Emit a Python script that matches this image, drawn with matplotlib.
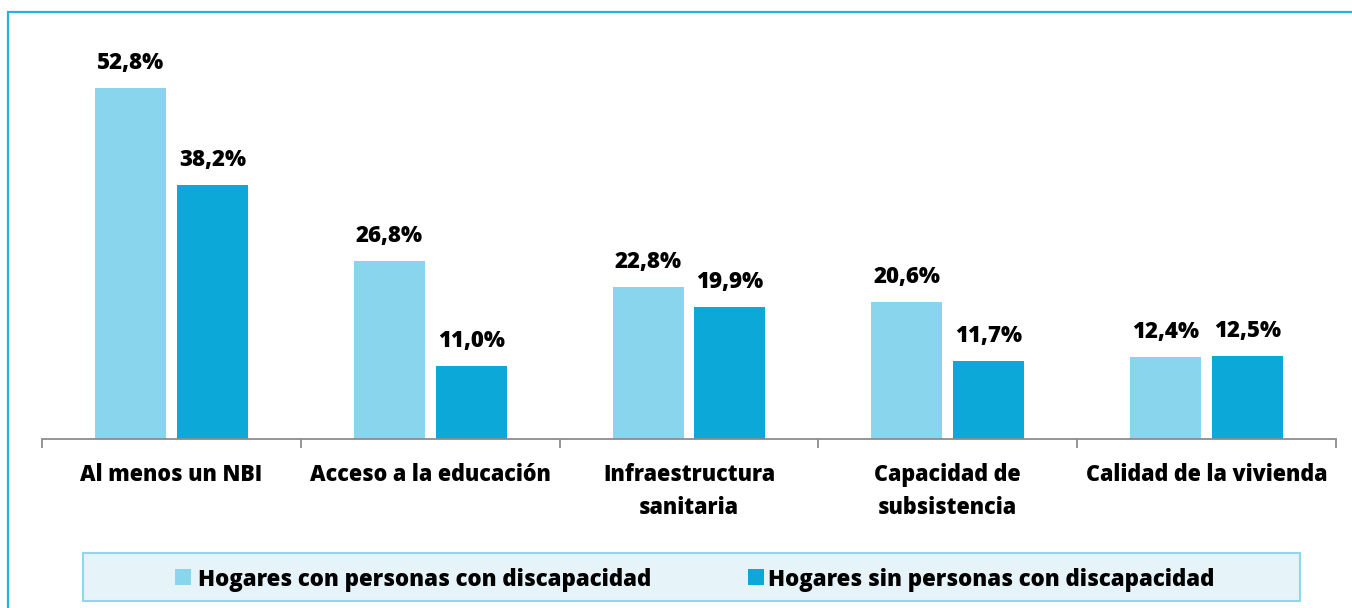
import matplotlib
matplotlib.use("Agg")
import matplotlib.pyplot as plt
from matplotlib.patches import Rectangle
import numpy as np

categories = ["Al menos un NBI", "Acceso a la educación", "Infraestructura\nsanitaria",
              "Capacidad de\nsubsistencia", "Calidad de la vivienda"]
con_disc = [52.8, 26.8, 22.8, 20.6, 12.4]
sin_disc = [38.2, 11.0, 19.9, 11.7, 12.5]
series_names = ["Hogares con personas con discapacidad", "Hogares sin personas con discapacidad"]

c_light = "#8AD5EE"
c_dark = "#0BA8D8"
FONT = "Open Sans"
WT = 800
FS_VAL = 16
FS_CAT = 15.5
FS_LEG = 16

W, H = 1352, 608
fig = plt.figure(figsize=(W / 100, H / 100), dpi=100)

def fx(px):
    return px / W

def fy(py):
    return 1 - py / H

fig.patches.append(Rectangle((fx(8), fy(700)), fx(1400), fy(12) - fy(700),
                             transform=fig.transFigure, fill=False,
                             edgecolor="#22B3E0", linewidth=1.6))

ax = fig.add_axes([fx(42), fy(439), fx(1336) - fx(42), fy(40) - fy(439)])
x = np.arange(len(categories))
off = 0.158
bw = 0.274
b1 = ax.bar(x - off, con_disc, bw, color=c_light)
b2 = ax.bar(x + off, sin_disc, bw, color=c_dark)
ax.set_xlim(-0.5, len(categories) - 0.5)
ax.set_ylim(0, 60)

for bars, vals in ((b1, con_disc), (b2, sin_disc)):
    for r, v in zip(bars, vals):
        ax.annotate(f"{v:.1f}%".replace(".", ","), (r.get_x() + r.get_width() / 2, v),
                    xytext=(0, 13.7), textcoords="offset points", ha="center",
                    va="baseline", fontsize=FS_VAL, fontweight=WT, family=FONT, color="black")

for s in ("left", "right", "top"):
    ax.spines[s].set_visible(False)
ax.spines["bottom"].set_color("#8C8C8C")
ax.spines["bottom"].set_linewidth(1.3)
ax.set_yticks([])
ax.set_xticks(x)
ax.set_xticklabels(categories, fontsize=FS_CAT, fontweight=WT, family=FONT,
                   linespacing=1.5, multialignment="center")
ax.tick_params(axis="x", which="major", length=0, pad=17.5)
ax.set_xticks(np.arange(-0.5, len(categories)), minor=True)
ax.tick_params(axis="x", which="minor", length=6.5, width=1.3, color="#8C8C8C", direction="out")

fig.patches.append(Rectangle((fx(83), fy(601)), fx(1300) - fx(83), fy(553) - fy(601),
                             transform=fig.transFigure, facecolor="#E6F4FA",
                             edgecolor="#8FD6EF", linewidth=1.5))
ymid = fy(577)
for (hx, tx), name, col in zip(((175, 198), (748, 768)), series_names, (c_light, c_dark)):
    fig.patches.append(Rectangle((fx(hx), fy(585)), fx(16), fy(569) - fy(585),
                                 transform=fig.transFigure, facecolor=col, edgecolor="none"))
    fig.text(fx(tx), ymid, name, fontsize=FS_LEG, fontweight=WT, family=FONT,
             va="center_baseline", ha="left", color="black")

fig.savefig("out.png", dpi=100, facecolor="white")
